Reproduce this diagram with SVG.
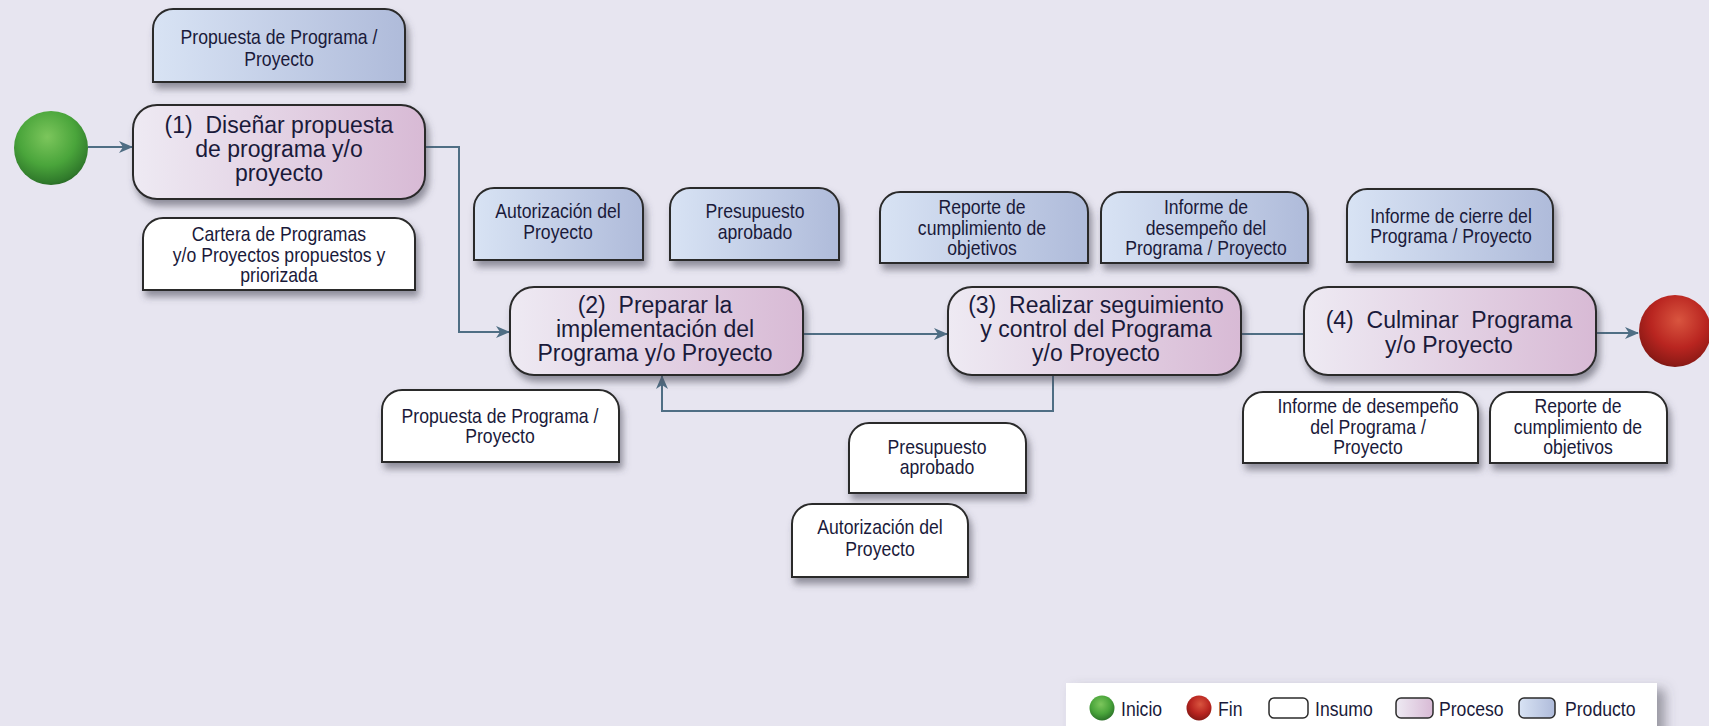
<svg xmlns="http://www.w3.org/2000/svg" width="1709" height="726" viewBox="0 0 1709 726">
  <defs>
    <style>
      .bg { fill: #e7e5f0; }
      .prod { fill: url(#gProd); stroke: #2b2b2b; stroke-width: 2; filter: url(#sh); }
      .ins { fill: #ffffff; stroke: #2b2b2b; stroke-width: 2; filter: url(#sh); }
      .proc { fill: url(#gProc); stroke: #2b2b2b; stroke-width: 2; filter: url(#sh); }
      .t { font-family: "Liberation Sans", Arial, sans-serif; fill: #1a1a3a; text-anchor: middle; white-space: pre; }
      .tp { font-size: 23px; }
      .ts { font-size: 20.5px; }
      .tl { text-anchor: start; }
      .conn { fill: none; stroke: #4f6e84; stroke-width: 2; }
      .arr { marker-end: url(#ah); }
      .lg { stroke: #2b2b2b; stroke-width: 1.5; }
    </style>
    <linearGradient id="gProd" x1="0" y1="0" x2="1" y2="0">
      <stop offset="0" stop-color="#d8e3f4"/>
      <stop offset="1" stop-color="#afbbda"/>
    </linearGradient>
    <linearGradient id="gProc" x1="0" y1="0" x2="1" y2="0">
      <stop offset="0" stop-color="#eeeaf3"/>
      <stop offset="1" stop-color="#d8bad5"/>
    </linearGradient>
    <radialGradient id="gGreen" cx="0.45" cy="0.35" r="0.7">
      <stop offset="0" stop-color="#7cc65c"/>
      <stop offset="0.55" stop-color="#4aa53b"/>
      <stop offset="0.88" stop-color="#307a2b"/>
      <stop offset="1" stop-color="#245c20"/>
    </radialGradient>
    <radialGradient id="gRed" cx="0.55" cy="0.35" r="0.7">
      <stop offset="0" stop-color="#d9553f"/>
      <stop offset="0.55" stop-color="#b92520"/>
      <stop offset="0.88" stop-color="#8e1a16"/>
      <stop offset="1" stop-color="#6e1311"/>
    </radialGradient>
    <filter id="sh" x="-10%" y="-10%" width="125%" height="140%">
      <feDropShadow dx="3" dy="6" stdDeviation="3.5" flood-color="#4a4a55" flood-opacity="0.55"/>
    </filter>
    <filter id="shL" x="-5%" y="-20%" width="115%" height="160%">
      <feDropShadow dx="8" dy="6" stdDeviation="6" flood-color="#4a4a55" flood-opacity="0.5"/>
    </filter>
    <marker id="ah" viewBox="0 0 14 12" refX="13" refY="6" markerWidth="14" markerHeight="12" markerUnits="userSpaceOnUse" orient="auto">
      <path d="M0,0 L14,6 L0,12 L4,6 Z" fill="#4f6e84"/>
    </marker>
  </defs>

  <rect class="bg" x="0" y="0" width="1709" height="726"/>

  <!-- connectors -->
  <g id="connectors">
    <path class="conn arr" d="M88,147 H132"/>
    <path class="conn arr" d="M425,147 H459 V332 H509"/>
    <path class="conn arr" d="M803,334 H947"/>
    <path class="conn" d="M1241,334 H1304"/>
    <path class="conn arr" d="M1053,375 V411 H662 V376"/>
    <path class="conn arr" d="M1596,333 H1638"/>
  </g>

  <!-- start / end -->
  <g id="inicio">
    <circle cx="51" cy="148" r="37" fill="url(#gGreen)"/>
  </g>
  <g id="fin">
    <circle cx="1675" cy="331" r="36" fill="url(#gRed)"/>
  </g>

  <!-- step 1 -->
  <g id="prod-propuesta">
    <path class="prod" d="M153,82 V29 A20,20 0 0 1 173,9 H385 A20,20 0 0 1 405,29 V82 Z"/>
    <g transform="translate(279 0) scale(0.86 1)">
      <text class="t ts" x="0" y="44">Propuesta de Programa /</text>
      <text class="t ts" x="0" y="66">Proyecto</text>
    </g>
  </g>
  <g id="proc-1">
    <rect class="proc" x="133" y="105" width="292" height="94" rx="24"/>
    <text class="t tp" x="279" y="133" xml:space="preserve">(1)  Diseñar propuesta</text>
    <text class="t tp" x="279" y="157">de programa y/o</text>
    <text class="t tp" x="279" y="181">proyecto</text>
  </g>
  <g id="ins-cartera">
    <path class="ins" d="M143,290 V238 A20,20 0 0 1 163,218 H395 A20,20 0 0 1 415,238 V290 Z"/>
    <g transform="translate(279 0) scale(0.86 1)">
      <text class="t ts" x="0" y="241.5">Cartera de Programas</text>
      <text class="t ts" x="0" y="262">y/o Proyectos propuestos y</text>
      <text class="t ts" x="0" y="282">priorizada</text>
    </g>
  </g>

  <!-- step 2 -->
  <g id="prod-autorizacion">
    <path class="prod" d="M474,260 V208 A20,20 0 0 1 494,188 H623 A20,20 0 0 1 643,208 V260 Z"/>
    <g transform="translate(558 0) scale(0.86 1)">
      <text class="t ts" x="0" y="218">Autorización del</text>
      <text class="t ts" x="0" y="239">Proyecto</text>
    </g>
  </g>
  <g id="prod-presupuesto">
    <path class="prod" d="M670,260 V208 A20,20 0 0 1 690,188 H819 A20,20 0 0 1 839,208 V260 Z"/>
    <g transform="translate(755 0) scale(0.86 1)">
      <text class="t ts" x="0" y="218">Presupuesto</text>
      <text class="t ts" x="0" y="239">aprobado</text>
    </g>
  </g>
  <g id="proc-2">
    <rect class="proc" x="510" y="287" width="293" height="88" rx="24"/>
    <text class="t tp" x="655" y="313" xml:space="preserve">(2)  Preparar la</text>
    <text class="t tp" x="655" y="337">implementación del</text>
    <text class="t tp" x="655" y="361">Programa y/o Proyecto</text>
  </g>
  <g id="ins-propuesta">
    <path class="ins" d="M382,462 V410 A20,20 0 0 1 402,390 H599 A20,20 0 0 1 619,410 V462 Z"/>
    <g transform="translate(500 0) scale(0.86 1)">
      <text class="t ts" x="0" y="423.5">Propuesta de Programa /</text>
      <text class="t ts" x="0" y="443.5">Proyecto</text>
    </g>
  </g>
  <g id="ins-presupuesto">
    <path class="ins" d="M849,493 V443 A20,20 0 0 1 869,423 H1006 A20,20 0 0 1 1026,443 V493 Z"/>
    <g transform="translate(937 0) scale(0.86 1)">
      <text class="t ts" x="0" y="454.5">Presupuesto</text>
      <text class="t ts" x="0" y="474.5">aprobado</text>
    </g>
  </g>
  <g id="ins-autorizacion">
    <path class="ins" d="M792,577 V524 A20,20 0 0 1 812,504 H948 A20,20 0 0 1 968,524 V577 Z"/>
    <g transform="translate(880 0) scale(0.86 1)">
      <text class="t ts" x="0" y="534.5">Autorización del</text>
      <text class="t ts" x="0" y="556.5">Proyecto</text>
    </g>
  </g>

  <!-- step 3 -->
  <g id="prod-reporte">
    <path class="prod" d="M880,263 V212 A20,20 0 0 1 900,192 H1068 A20,20 0 0 1 1088,212 V263 Z"/>
    <g transform="translate(982 0) scale(0.86 1)">
      <text class="t ts" x="0" y="214.5">Reporte de</text>
      <text class="t ts" x="0" y="235">cumplimiento de</text>
      <text class="t ts" x="0" y="255.5">objetivos</text>
    </g>
  </g>
  <g id="prod-informe-desempeno">
    <path class="prod" d="M1101,263 V212 A20,20 0 0 1 1121,192 H1288 A20,20 0 0 1 1308,212 V263 Z"/>
    <g transform="translate(1206 0) scale(0.86 1)">
      <text class="t ts" x="0" y="214.5">Informe de</text>
      <text class="t ts" x="0" y="235">desempeño del</text>
      <text class="t ts" x="0" y="255.5">Programa / Proyecto</text>
    </g>
  </g>
  <g id="proc-3">
    <rect class="proc" x="948" y="287" width="293" height="88" rx="24"/>
    <text class="t tp" x="1096" y="313" xml:space="preserve">(3)  Realizar seguimiento</text>
    <text class="t tp" x="1096" y="337">y control del Programa</text>
    <text class="t tp" x="1096" y="361">y/o Proyecto</text>
  </g>

  <!-- step 4 -->
  <g id="prod-informe-cierre">
    <path class="prod" d="M1347,262 V209 A20,20 0 0 1 1367,189 H1533 A20,20 0 0 1 1553,209 V262 Z"/>
    <g transform="translate(1451 0) scale(0.86 1)">
      <text class="t ts" x="0" y="223.5">Informe de cierre del</text>
      <text class="t ts" x="0" y="243.5">Programa / Proyecto</text>
    </g>
  </g>
  <g id="proc-4">
    <rect class="proc" x="1304" y="287" width="292" height="88" rx="24"/>
    <text class="t tp" x="1449" y="328" xml:space="preserve">(4)  Culminar  Programa</text>
    <text class="t tp" x="1449" y="353">y/o Proyecto</text>
  </g>
  <g id="ins-informe-desempeno">
    <path class="ins" d="M1243,463 V412 A20,20 0 0 1 1263,392 H1458 A20,20 0 0 1 1478,412 V463 Z"/>
    <g transform="translate(1368 0) scale(0.86 1)">
      <text class="t ts" x="0" y="413.5">Informe de desempeño</text>
      <text class="t ts" x="0" y="434">del Programa /</text>
      <text class="t ts" x="0" y="454.5">Proyecto</text>
    </g>
  </g>
  <g id="ins-reporte">
    <path class="ins" d="M1490,463 V412 A20,20 0 0 1 1510,392 H1647 A20,20 0 0 1 1667,412 V463 Z"/>
    <g transform="translate(1578 0) scale(0.86 1)">
      <text class="t ts" x="0" y="413.5">Reporte de</text>
      <text class="t ts" x="0" y="434">cumplimiento de</text>
      <text class="t ts" x="0" y="454.5">objetivos</text>
    </g>
  </g>

  <!-- legend -->
  <g id="legend">
    <rect x="1066" y="683" width="591" height="60" fill="#ffffff" filter="url(#shL)"/>
    <circle cx="1102" cy="708" r="12.5" fill="url(#gGreen)"/>
    <g transform="translate(1121 0) scale(0.86 1)"><text class="t ts tl" x="0" y="716">Inicio</text></g>
    <circle cx="1199" cy="708" r="12.5" fill="url(#gRed)"/>
    <g transform="translate(1218 0) scale(0.86 1)"><text class="t ts tl" x="0" y="716">Fin</text></g>
    <rect class="lg" x="1269" y="698" width="39" height="20" rx="5" fill="#ffffff"/>
    <g transform="translate(1315 0) scale(0.86 1)"><text class="t ts tl" x="0" y="716">Insumo</text></g>
    <rect class="lg" x="1396" y="698" width="37" height="20" rx="5" fill="url(#gProc)"/>
    <g transform="translate(1439 0) scale(0.86 1)"><text class="t ts tl" x="0" y="716">Proceso</text></g>
    <rect class="lg" x="1519" y="698" width="36" height="20" rx="5" fill="url(#gProd)"/>
    <g transform="translate(1565 0) scale(0.86 1)"><text class="t ts tl" x="0" y="716">Producto</text></g>
  </g>
</svg>
